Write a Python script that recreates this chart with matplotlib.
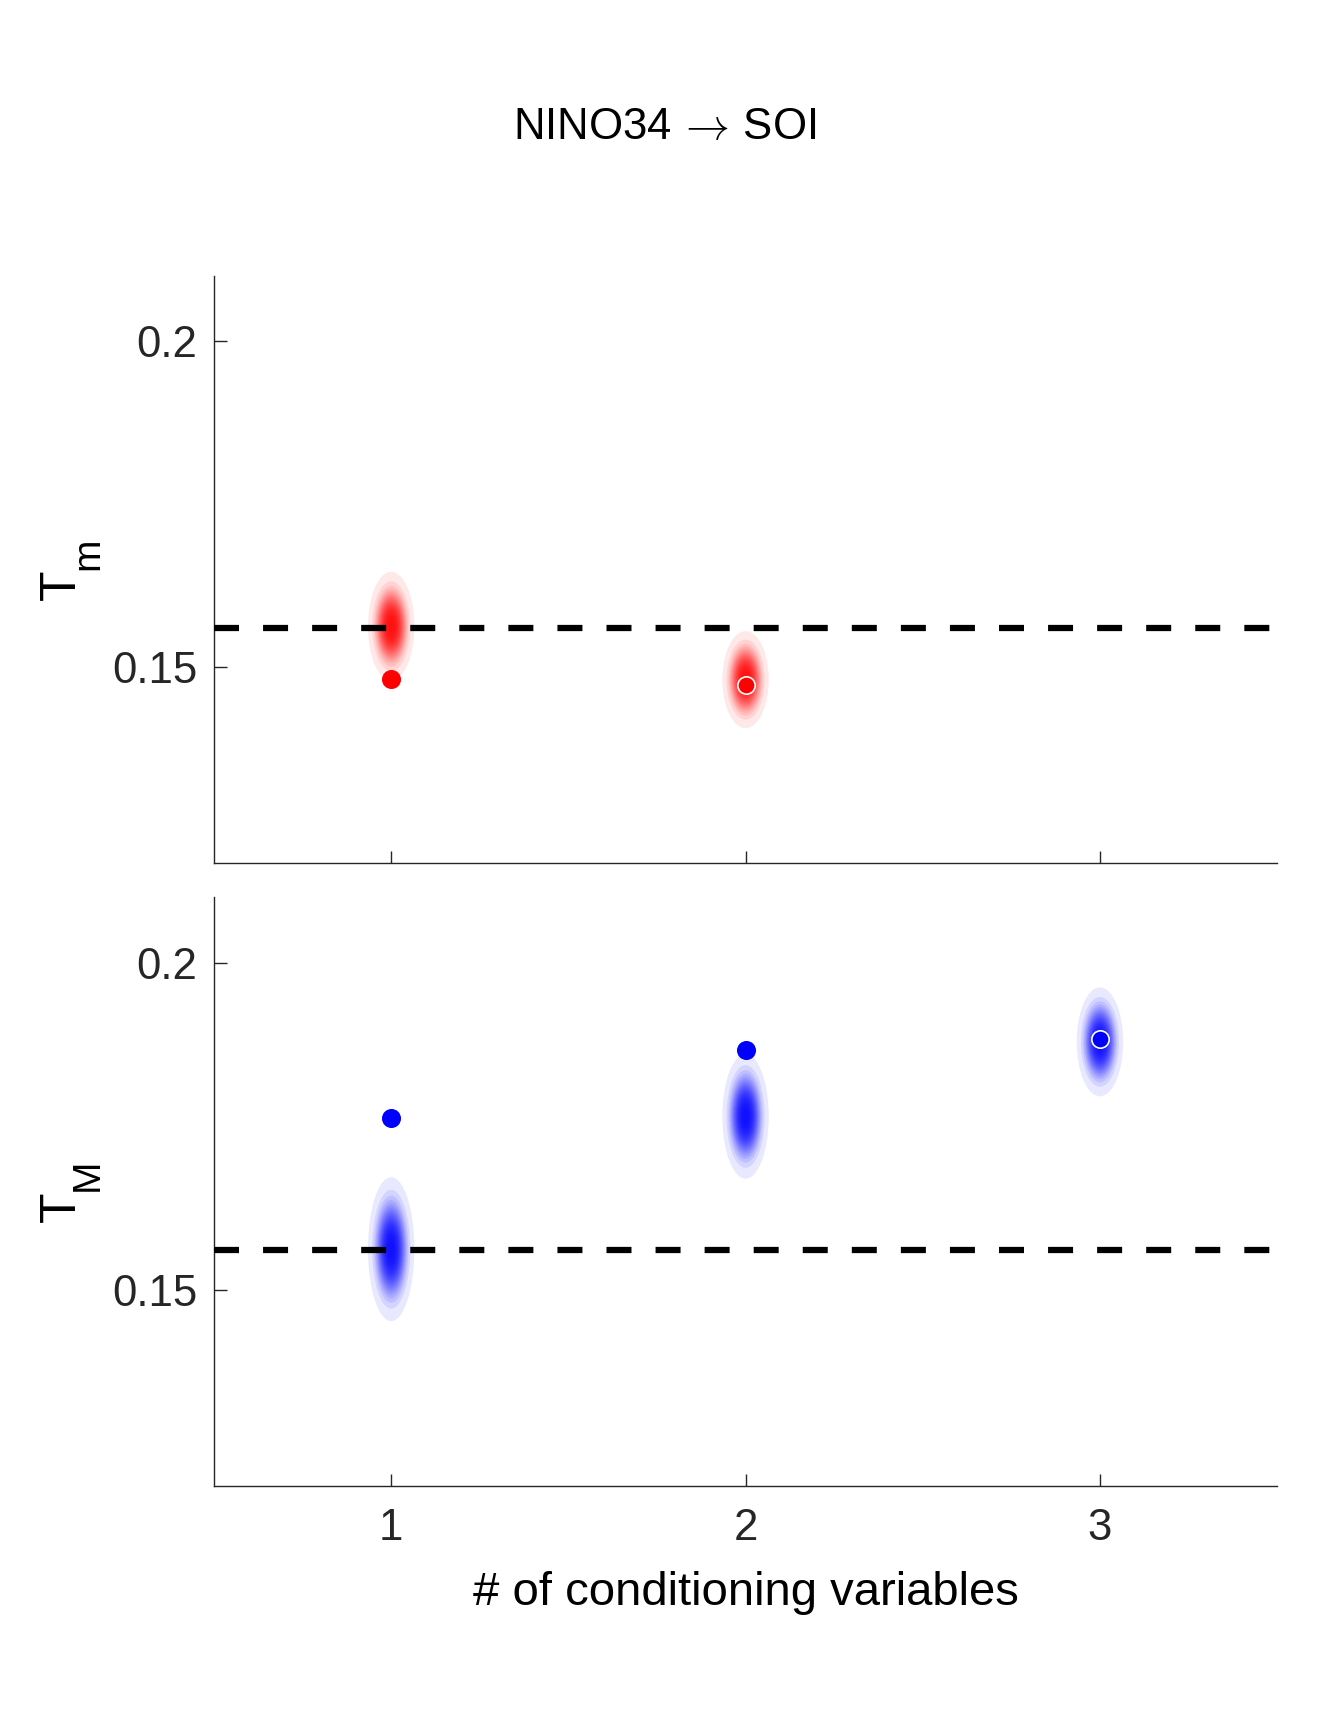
import matplotlib
matplotlib.use("Agg")
import matplotlib.pyplot as plt
from matplotlib.patches import Ellipse
import numpy as np

# ---- data ----
n_cond = [1, 2, 3]
threshold = 0.156

# T_m (top panel): bootstrap cloud summaries and point estimates
tm_x = [1, 2]
tm_cloud_mean = [0.1563, 0.1481]
tm_cloud_sd = [0.0028, 0.0025]
tm_point = [0.1482, 0.1473]
tm_point_edge = ["none", "white"]

# T_M (bottom panel)
tM_x = [1, 2, 3]
tM_cloud_mean = [0.1562, 0.1765, 0.1879]
tM_cloud_sd = [0.0037, 0.0032, 0.0028]
tM_point = [0.1763, 0.1867, 0.1884]
tM_point_edge = ["none", "none", "white"]

cloud_sd_x = 0.022

title_txt = "NINO34$\\,\\rightarrow\\,$SOI"
xlabel_txt = "# of conditioning variables"
ylabel_main = ["T", "T"]
ylabel_sub = ["m", "M"]

plt.rcParams["font.family"] = ["Liberation Sans", "DejaVu Sans"]
axis_grey = (0.15, 0.15, 0.15)
W, H = 1329, 1719

fig = plt.figure(figsize=(W / 100, H / 100), dpi=100)
ax_top = fig.add_axes([0.161, 0.498, 0.800, 0.3415])
ax_bot = fig.add_axes([0.161, 0.1356, 0.800, 0.3424])

# gaussian level-set radii, so stacked layers fade like a point cloud
levels = np.linspace(0.012, 0.95, 26)
radii = np.sqrt(-2 * np.log(levels))


def draw_cloud(ax, x, mean, sd, color):
    for k in radii:
        ax.add_patch(Ellipse((x, mean), 2 * k * cloud_sd_x, 2 * k * sd,
                             facecolor=color, edgecolor="none", alpha=0.09, zorder=2))


def style_axis(ax):
    ax.set_xlim(0.5, 3.5)
    ax.set_ylim(0.12, 0.21)
    ax.set_xticks(n_cond)
    ax.set_yticks([0.15, 0.2])
    ax.set_yticklabels(["0.15", "0.2"])
    for s in ["top", "right"]:
        ax.spines[s].set_visible(False)
    for s in ["left", "bottom"]:
        ax.spines[s].set_color(axis_grey)
        ax.spines[s].set_linewidth(1.0)
    ax.tick_params(direction="in", length=9, width=1.0, colors=axis_grey,
                   labelsize=31.5, pad=12)


for ax, xs, means, sds, pts, edges, col in [
        (ax_top, tm_x, tm_cloud_mean, tm_cloud_sd, tm_point, tm_point_edge, "red"),
        (ax_bot, tM_x, tM_cloud_mean, tM_cloud_sd, tM_point, tM_point_edge, "blue")]:
    for x, m, s in zip(xs, means, sds):
        draw_cloud(ax, x, m, s, col)
    ax.axhline(threshold, color="black", linewidth=4.5, dashes=(4.0, 3.85), zorder=3)
    for x, p, e in zip(xs, pts, edges):
        ax.plot(x, p, "o", markersize=12.5, markerfacecolor=col,
                markeredgecolor=(col if e == "none" else e),
                markeredgewidth=1.2, zorder=4)
    style_axis(ax)

ax_top.set_xticklabels([])
ax_bot.tick_params(axis="x", pad=16)
ax_bot.set_xlabel(xlabel_txt, fontsize=34, labelpad=16)

# y labels: T with a MATLAB-style large, dropped subscript
for (bx, by), (sx, sy), main, sub in [((75, 600), (98, 570), ylabel_main[0], ylabel_sub[0]),
                                      ((75, 1222), (98, 1191), ylabel_main[1], ylabel_sub[1])]:
    fig.text(bx / W, 1 - by / H, main, fontsize=36, rotation=90,
             rotation_mode="anchor", ha="left", va="baseline", color="black")
    fig.text(sx / W, 1 - sy / H, sub, fontsize=28, rotation=90,
             rotation_mode="anchor", ha="left", va="baseline", color="black")

fig.text(0.5, 0.926, title_txt, ha="center", va="center", fontsize=31.5,
         math_fontfamily="cm")

fig.savefig("out.png", dpi=100)
